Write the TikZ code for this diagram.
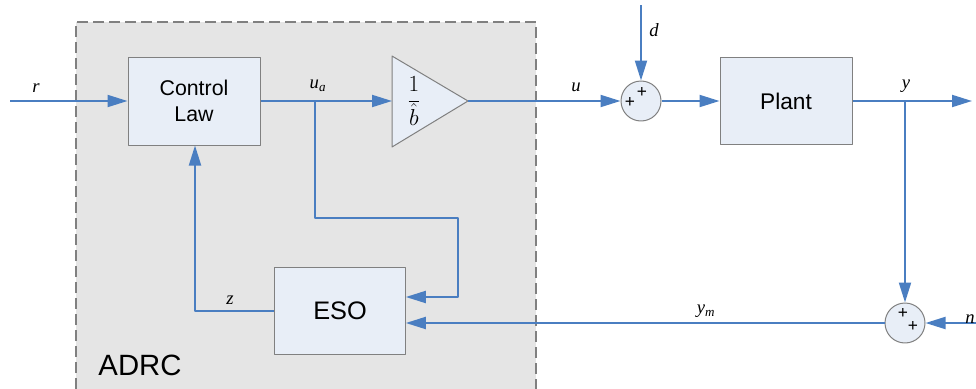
\documentclass[tikz,border=0pt]{standalone}
\usepackage{fontspec}
\setmainfont{Liberation Sans}
\newfontfamily\lblfont{Liberation Serif}
\usetikzlibrary{arrows.meta}

\definecolor{sigblue}{RGB}{74,126,193}
\definecolor{boxfill}{RGB}{232,238,247}
\definecolor{boxline}{RGB}{128,128,128}
\definecolor{adrcgray}{RGB}{229,229,229}

\tikzset{
  blk/.style={draw=boxline,fill=boxfill,line width=0.75pt,align=center,inner sep=0pt},
  sumnode/.style={circle,draw=boxline,fill=boxfill,line width=0.75pt,minimum size=30pt,inner sep=0pt},
  sig/.style={draw=sigblue,line width=1.5pt},
  sigarrow/.style={sig,-{Triangle[length=15pt,width=9pt]}},
  lbl/.style={font=\lblfont\itshape\fontsize{14}{16}\selectfont,inner sep=1pt},
  pm/.style={font=\fontsize{13}{13}\selectfont,inner sep=0pt}
}

\begin{document}
\begin{tikzpicture}[x=0.75pt,y=-0.75pt,line join=round]
    \useasboundingbox (0,0) rectangle (976,389);
    % ADRC area
    \fill[adrcgray] (76,22) rectangle (536,389);
    \draw[boxline,line width=1.5pt,dash pattern=on 8pt off 4pt] (76,389)--(76,22)--(536,22)--(536,389);
    \node[font=\fontsize{22}{24}\selectfont] (adrc) at (140,365){ADRC};

    % blocks
    \node[blk,minimum width=99pt,minimum height=66pt,font=\fontsize{16}{19}\selectfont] (law) at (194,101){Control\\Law};
    \node[blk,minimum width=99pt,minimum height=65pt,font=\fontsize{17}{20}\selectfont] (plant) at (786,101){Plant};
    \node[blk,minimum width=98pt,minimum height=65pt,font=\fontsize{19}{22}\selectfont] (eso) at (340,311){ESO};
    \coordinate (gin) at (392,101);
    \coordinate (gout) at (468,101);
    \draw[boxline,fill=boxfill,line width=0.75pt] (392,56)--(468,101)--(392,147)--cycle;
    \node[font=\fontsize{16}{18}\selectfont,inner sep=0pt] (gain) at (414,101){$\displaystyle\frac{1}{\hat{b}}$};

    % summing junctions
    \node[sumnode] (sum1) at (641,101){};
    \node[pm] at (642,92){+};
    \node[pm] at (630,102){+};
    \node[sumnode] (sum2) at (905,323){};
    \node[pm] at (903,313){+};
    \node[pm] at (913,326){+};

    % signals
    \coordinate (rin) at (10,101);
    \coordinate (din) at (641,5);
    \coordinate (yout) at (972,101);
    \coordinate (nin) at (976,323);
    \coordinate (ua) at (315,101);
    \coordinate (yb) at (905,101);
    \draw[sigarrow] (rin)--(law.west);
    \draw[sigarrow] (law.east)--(gin);
    \draw[sigarrow] (gout)--(sum1.west);
    \draw[sigarrow] (din)--(sum1.north);
    \draw[sigarrow] (sum1.east)--(plant.west);
    \draw[sigarrow] (plant.east)--(yout);
    \draw[sigarrow] (yb)--(sum2.north);
    \draw[sigarrow] (nin)--(sum2.east);
    \draw[sigarrow] (sum2.west)--(eso.east |- sum2.west);
    \draw[sigarrow] (ua)--(315,218)--(458,218)--(458,297)--(eso.east |- 0,297);
    \draw[sigarrow] (eso.west)--(195,311)--(law.south -| 195,0);

    % labels
    \node[lbl] (rlbl) at (36,88){r};
    \node[lbl] (ualbl) at (318,86){u\textsubscript{a}};
    \node[lbl] (ulbl) at (576,87){u};
    \node[lbl] (dlbl) at (654,30){d};
    \node[lbl] (ylbl) at (906,86){y};
    \node[lbl] (ymlbl) at (706,311){y\textsubscript{m}};
    \node[lbl] (zlbl) at (230,300){z};
    \node[lbl] (nlbl) at (970,319){n};
  \end{tikzpicture}
\end{document}
